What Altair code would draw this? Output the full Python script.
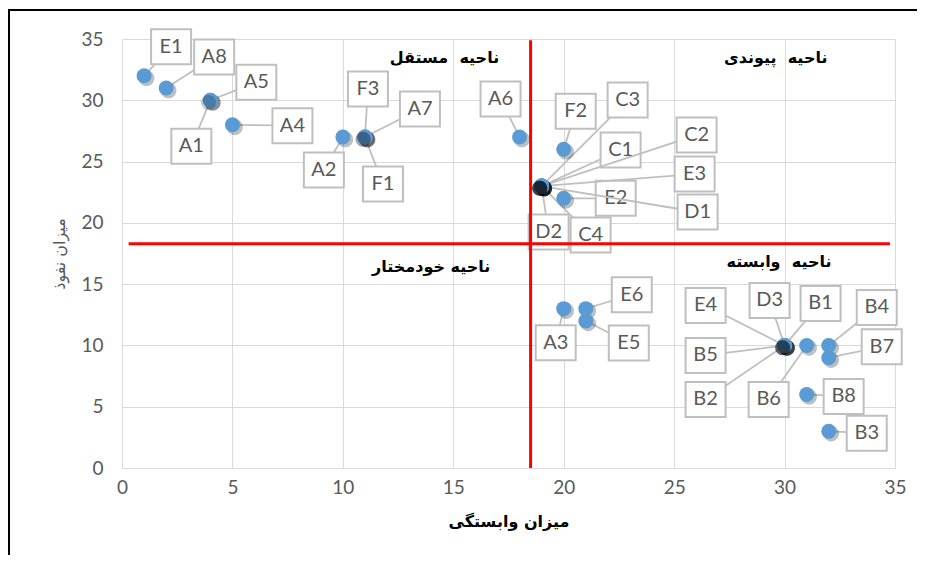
import altair as alt
import pandas as pd
import numpy as np

# ---------------- data ----------------
labels = ["E1", "A8", "A5", "A1", "A4", "A2", "F3", "A7", "F1", "A6", "F2",
          "C3", "C1", "C2", "E3", "E2", "D1", "D2", "C4", "E6", "E5", "A3",
          "E4", "D3", "B1", "B4", "B5", "B7", "B2", "B6", "B8", "B3"]
dependence = [1, 2, 4, 4, 5, 10, 11, 11, 11, 18, 20,
              19, 19, 19, 19, 20, 19, 19, 19, 21, 21, 20,
              30, 30, 30, 32, 30, 32, 30, 31, 31, 32]
influence = [32, 31, 30, 30, 28, 27, 27, 27, 27, 27, 26,
             23, 23, 23, 23, 22, 23, 23, 23, 13, 12, 13,
             10, 10, 10, 10, 10, 9, 10, 10, 6, 3]

zone_names = ["ناحیه\u00a0 مستقل", "ناحیه\u00a0 پیوندی", "ناحیه خودمختار", "ناحیه\u00a0 وابسته"]
zone_x = [14.6, 29.6, 14.0, 29.75]
zone_y = [33.45, 33.45, 16.4, 16.8]

split_x = 18.5   # vertical red divider (dependence)
split_y = 18.3   # horizontal red divider (influence)

# ---------------- layout (label box offsets, pixels) ----------------
label_dx = [27, 48, 46, -19, 60, -19, 3, 55, 18, -19, 12,
            86, 79, 155, 153, 52, 156, 7, 49, 46, 43, -8,
            -79, -15, 36, 48, -79, 53, -79, -38, 37, 38]
label_dy = [-29, -31, -18, 46, 1, 33, -48, -28, 47, -38, -38,
            -86, -36, -51, -12, 0, 26, 46, 49, -14, 22, 34,
            -40, -45, -42, -38, 10, -11, 54, 54, 2, 2]

W, H = 773, 429
XMAX, YMAX = 35, 35
sx, sy = W / XMAX, H / YMAX
BOX_W, BOX_H = 40, 35

df = pd.DataFrame({"label": labels, "x": dependence, "y": influence,
                   "dx": label_dx, "dy": label_dy})
df["lx"] = df["x"] + df["dx"] / sx
df["ly"] = df["y"] - df["dy"] / sy
tx = np.where(df["dx"] != 0, (BOX_W / 2) / df["dx"].abs().replace(0, 1), np.inf)
ty = np.where(df["dy"] != 0, (BOX_H / 2) / df["dy"].abs().replace(0, 1), np.inf)
t = np.minimum(np.minimum(tx, ty), 1.0)
df["ex"] = df["x"] + (1 - t) * df["dx"] / sx
df["ey"] = df["y"] - (1 - t) * df["dy"] / sy
df["rank"] = df.groupby(["x", "y"]).cumcount()
stacked = df[df["rank"] > 0]

zones = pd.DataFrame({"name": zone_names, "x": zone_x, "y": zone_y})
dividers = pd.DataFrame({"x": [split_x, 0.3], "x2": [split_x, 34.77],
                         "y": [0, split_y], "y2": [34.9, split_y]})

xs = alt.Scale(domain=[0, XMAX], nice=False, zero=False)
ys = alt.Scale(domain=[0, YMAX], nice=False, zero=False)
ticks = list(range(0, 36, 5))

xaxis = alt.Axis(title="میزان وابستگی", values=ticks, grid=True, gridColor="#d9d9d9",
                 gridWidth=1, domain=False, ticks=False, labelFont="Lato",
                 labelFontSize=19, labelColor="#595959", labelPadding=10,
                 labelFlush=False, titleFont="DejaVu Sans", titleFontSize=16,
                 titleFontWeight="bold", titleColor="#000000", titleY=53,
                 titleBaseline="middle")
yaxis = alt.Axis(title="میزان نفوذ", values=ticks, grid=True, gridColor="#d9d9d9",
                 gridWidth=1, domain=False, ticks=False, labelFont="Lato",
                 labelFontSize=19, labelColor="#595959", labelPadding=19,
                 labelFlush=False, titleFont="DejaVu Sans", titleFontSize=16,
                 titleFontWeight="normal", titleColor="#595959", titleX=-63,
                 titleY=H / 2, titleBaseline="middle")


def X(field):
    return alt.X(field, type="quantitative", scale=xs, axis=xaxis)


def Y(field):
    return alt.Y(field, type="quantitative", scale=ys, axis=yaxis)


base = alt.Chart(df)

frame = alt.Chart(pd.DataFrame({"a": [0]})).mark_rect(
    fillOpacity=0, stroke="black", strokeWidth=2
).encode(x=alt.value(-113), x2=alt.value(W + 200), y=alt.value(-29), y2=alt.value(H + 200))

leaders = base.mark_rule(color="#bfbfbf", strokeWidth=1.8).encode(
    x=X("x"), y=Y("y"), x2="ex:Q", y2="ey:Q")

shadow_path = "M1.3,0.3A1,1,0,1,1,-0.7,0.3A1,1,0,1,1,1.3,0.3Z"
shadows = base.mark_point(shape=shadow_path, filled=True, fill="#000000",
                          opacity=0.25, strokeWidth=0, size=250).encode(
    x=X("x"), y=Y("y"))

points = base.mark_point(shape="circle", filled=True, fill="#5b9bd5",
                         opacity=1, strokeWidth=0, size=225).encode(
    x=X("x"), y=Y("y"))

dark_path = "M0.75,0.3A1,1,0,1,1,-1.25,0.3A1,1,0,1,1,0.75,0.3Z"
darks = alt.Chart(stacked).mark_point(shape=dark_path, filled=True, fill="#000000",
                                      opacity=0.2, strokeWidth=0, size=225).encode(
    x=X("x"), y=Y("y"))

box_path = "M-1,-0.875L1,-0.875L1,0.875L-1,0.875Z"
boxes = base.mark_point(shape=box_path, filled=True, fill="#ffffff", stroke="#bfbfbf",
                        strokeWidth=2, opacity=1, size=BOX_W * BOX_W).encode(
    x=X("lx"), y=Y("ly"))

texts = base.mark_text(font="Lato", fontSize=20, color="#595959",
                       baseline="middle", align="center").encode(
    x=X("lx"), y=Y("ly"), text="label:N")

zone_text = alt.Chart(zones).mark_text(font="DejaVu Sans", fontSize=16,
                                       fontWeight="bold", color="#000000",
                                       baseline="middle", align="center").encode(
    x=X("x"), y=Y("y"), text="name:N")

red = alt.Chart(dividers).mark_rule(color="#ff0000", strokeWidth=3).encode(
    x=X("x"), y=Y("y"), x2="x2:Q", y2="y2:Q")

chart = alt.layer(
    frame, zone_text, boxes, texts, leaders, shadows, points, darks, red
).properties(
    width=W, height=H,
    autosize=alt.AutoSizeParams(type="none"),
    padding={"left": 114, "top": 31, "right": 22, "bottom": 87},
).configure_view(strokeOpacity=0)

chart.save("out.html", embed_options={"renderer": "svg", "actions": False})
